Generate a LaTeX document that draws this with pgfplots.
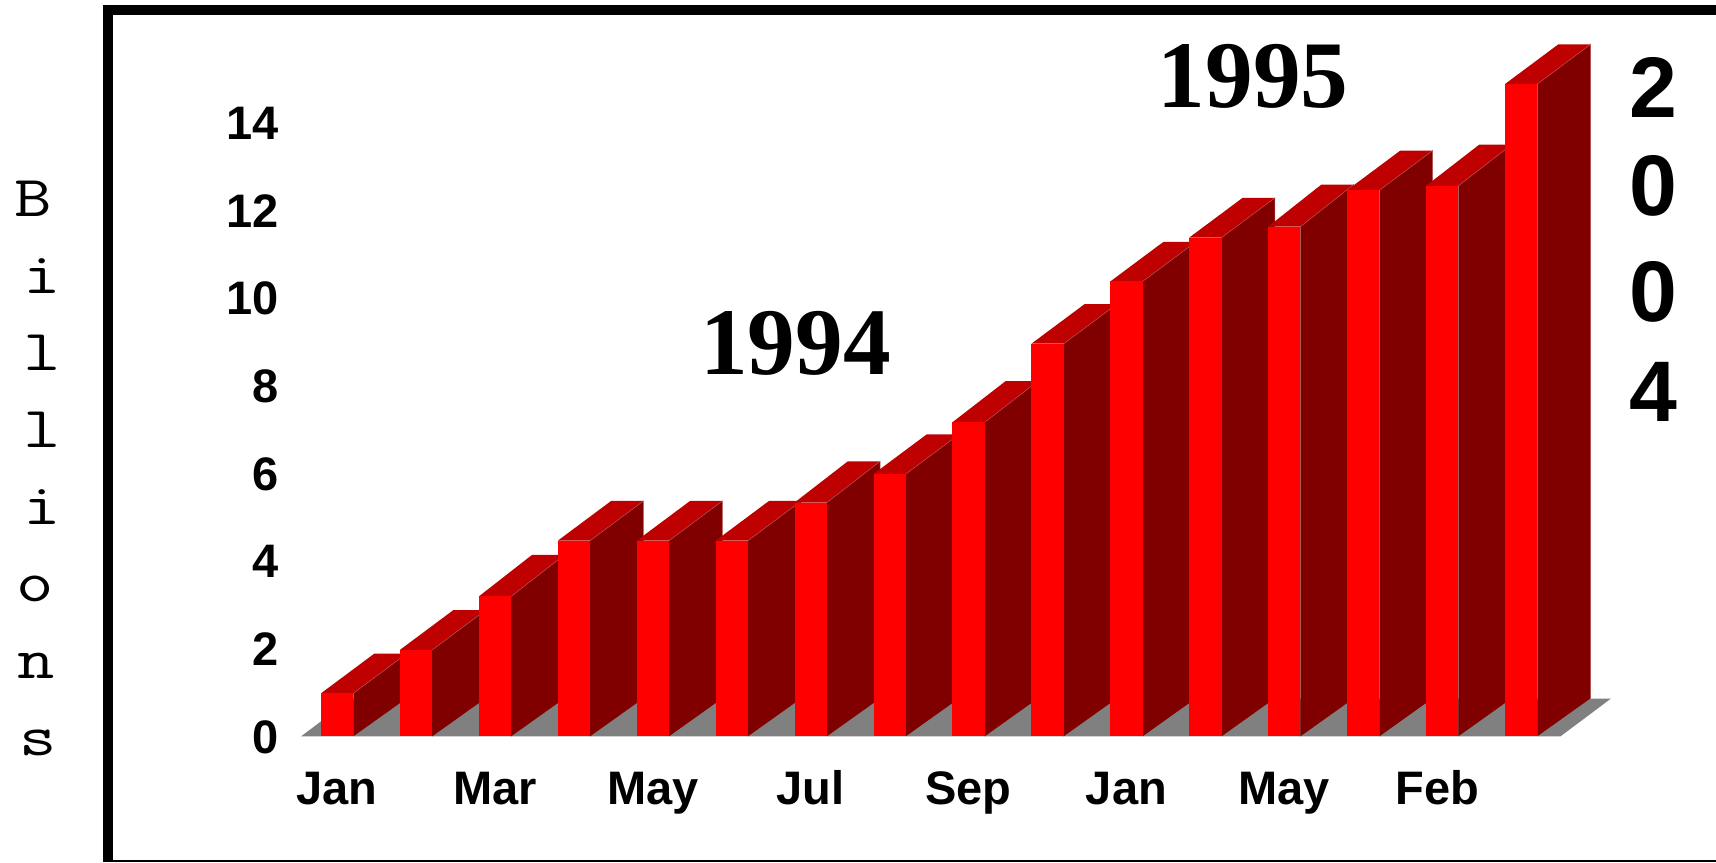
\documentclass[border=0pt]{standalone}
\usepackage{pgfplots}
\usepackage{fontspec}
\setmainfont{Liberation Sans}
\newfontfamily\serifbold{Liberation Serif}[BoldFont=* Bold]
\pgfplotsset{compat=1.18}
\definecolor{barfront}{HTML}{FF0000}
\definecolor{barside}{HTML}{800000}
\definecolor{bartop}{HTML}{BF0000}
\definecolor{floorgrey}{HTML}{808080}
\definecolor{baredge}{HTML}{B85050}
\newcommand\dbar[3]{%
  \pgfmathsetmacro\xl{#1-0.2046}%
  \pgfmathsetmacro\xr{#1+0.2046}%
  \pgfmathsetmacro\xlb{#1-0.2046+0.675}%
  \pgfmathsetmacro\xrb{#1+0.2046+0.675}%
  \pgfmathsetmacro\yb{#2+#3}%
  \addplot[fill=bartop,draw=none] coordinates {(\xl,#2) (\xr,#2) (\xrb,\yb) (\xlb,\yb)};
  \addplot[fill=barside,draw=none] coordinates {(\xr,0) (\xr,#2) (\xrb,\yb) (\xrb,0.866)};
  \addplot[draw=baredge,line width=0.25pt] coordinates {(\xr,#2) (\xrb,\yb) (\xrb,0.866)};
  \addplot[fill=barfront,draw=none] coordinates {(\xl,0) (\xr,0) (\xr,#2) (\xl,#2)};
}
\newcommand\pxnode[4]{\node[inner sep=0pt,anchor=#3] at ({#1*0.5pt},{(862-#2)*0.5pt}) {#4};}
\newcommand\vletter[1]{\fontsize{29}{29}\selectfont\ttfamily\scalebox{1.25}[1]{#1}}
\begin{document}
\begin{tikzpicture}
\path[use as bounding box] (0,0) rectangle (858pt,431pt);
\begin{axis}[
  at={(148.85pt,62.85pt)}, anchor=south west,
  scale only axis, width=651.15pt, height=328.95pt,
  xmin=-0.5, xmax=16, ymin=0, ymax=15,
  clip=false,
  axis line style={draw=none},
  tick style={draw=none},
  major tick length=0pt,
  ytick={0,2,4,6,8,10,12,14},
  xtick={0,2,4,6,8,10,12,14},
  xticklabels={Jan,Mar,May,Jul,Sep,Jan,May,\kern-4.8pt Feb},
  /pgf/number format/assume math mode=true,
  tick label style={font=\fontsize{23.5}{23.5}\selectfont\bfseries, inner sep=0pt},
  yticklabel style={anchor=east, xshift=-9.1pt, yshift=-0.4pt},
  xticklabel style={anchor=north, yshift=-17.2pt, text height=16.9pt},
]
\addplot[fill=floorgrey,draw=none] coordinates {(-0.4567,0) (15.5,0) (16.136,0.857) (0.177,0.857)};
\dbar{0}{0.98}{0.905}
\dbar{1}{1.97}{0.905}
\dbar{2}{3.19}{0.948}
\dbar{3}{4.46}{0.905}
\dbar{4}{4.46}{0.905}
\dbar{5}{4.46}{0.905}
\dbar{6}{5.33}{0.94}
\dbar{7}{5.98}{0.905}
\dbar{8}{7.16}{0.94}
\dbar{9}{8.95}{0.905}
\dbar{10}{10.37}{0.905}
\dbar{11}{11.37}{0.905}
\dbar{12}{11.62}{0.96}
\dbar{13}{12.45}{0.905}
\dbar{14}{12.55}{0.94}
\dbar{15}{14.87}{0.905}
\end{axis}
% frame
\fill[black] (51.5pt,0pt) rectangle (56.5pt,428.5pt);
\fill[black] (51.5pt,423.5pt) rectangle (858pt,428.5pt);
\fill[black] (51.5pt,0pt) rectangle (858pt,1pt);
% titles
\pxnode{795.6}{343.6}{center}{\fontsize{47.7}{47.7}\selectfont\serifbold\bfseries 1994}
\pxnode{1253}{76.6}{center}{\fontsize{47.7}{47.7}\selectfont\serifbold\bfseries 1995}
\pxnode{1653.7}{87.5}{center}{\fontsize{43}{43}\selectfont\bfseries 2}
\pxnode{1653.7}{186}{center}{\fontsize{43}{43}\selectfont\bfseries 0}
\pxnode{1653.7}{292}{center}{\fontsize{43}{43}\selectfont\bfseries 0}
\pxnode{1653.7}{392}{center}{\fontsize{43}{43}\selectfont\bfseries 4}
% vertical label
\pxnode{33.5}{216.7}{base}{\vletter{B}}
\pxnode{42}{293.5}{base}{\vletter{i}}
\pxnode{42}{370.5}{base}{\vletter{l}}
\pxnode{42}{447.5}{base}{\vletter{l}}
\pxnode{42}{524.5}{base}{\vletter{i}}
\pxnode{35}{601.5}{base}{\vletter{o}}
\pxnode{36}{678.5}{base}{\vletter{n}}
\pxnode{38}{755.5}{base}{\vletter{s}}
\end{tikzpicture}
\end{document}
